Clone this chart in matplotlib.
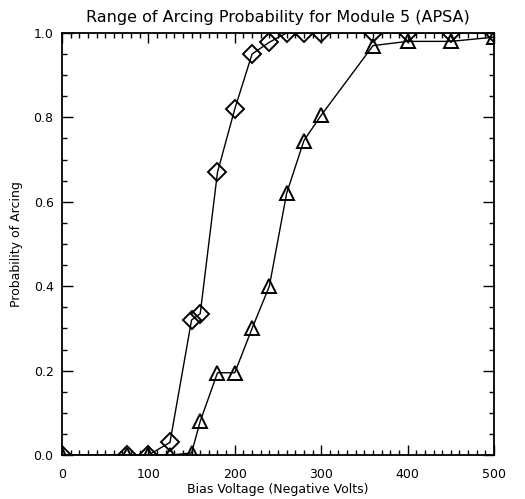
import matplotlib
matplotlib.use('Agg')
import matplotlib.pyplot as plt
from matplotlib.ticker import MultipleLocator

# bias voltage (negative volts)
volts = [0, 75, 100, 125, 150, 160, 180, 200, 220, 240, 260, 280, 300, 360, 400, 450, 500]

# probability of arcing, lower-threshold curve (diamonds)
prob_diamond = [0.0, 0.0, 0.0, 0.03, 0.32, 0.335, 0.67, 0.82, 0.95, 0.978, 1.0, 1.0, 1.0,
                1.0, 1.0, 1.0, 1.0]

# probability of arcing, upper-threshold curve (triangles)
prob_triangle = [0.0, 0.0, 0.0, 0.0, 0.005, 0.08, 0.195, 0.195, 0.30, 0.40, 0.62, 0.745, 0.805,
                 0.97, 0.98, 0.98, 0.99]

xticks = [0, 100, 200, 300, 400, 500]
yticks = [0.0, 0.2, 0.4, 0.6, 0.8, 1.0]

plt.rcParams['font.family'] = 'DejaVu Sans'

fig = plt.figure(figsize=(5.25, 4.99), dpi=100)
ax = fig.add_axes([0.118, 0.088, 0.823, 0.846])

ax.plot(volts, prob_diamond, color='black', lw=1.0, marker='D', ms=9,
        mfc='none', mec='black', mew=1.4)
ax.plot(volts, prob_triangle, color='black', lw=1.0, marker='^', ms=10.5,
        mfc='none', mec='black', mew=1.4)

ax.set_xlim(0, 500)
ax.set_ylim(0, 1.0)
ax.set_xticks(xticks)
ax.set_yticks(yticks)
ax.set_xticklabels([str(t) for t in xticks])
ax.set_yticklabels([f'{t:.1f}' for t in yticks])
ax.xaxis.set_minor_locator(MultipleLocator(10))
ax.yaxis.set_minor_locator(MultipleLocator(0.05))
ax.tick_params(which='both', direction='in', top=True, right=True, labelsize=9, width=1.0)
ax.tick_params(axis='x', which='major', length=7, pad=9)
ax.tick_params(axis='y', which='major', length=8, pad=6)
ax.tick_params(which='minor', length=3.5)
for s in ax.spines.values():
    s.set_linewidth(1.3)

ax.set_title('Range of Arcing Probability for Module 5 (APSA)', fontsize=11.5, pad=8)
ax.set_xlabel('Bias Voltage (Negative Volts)', fontsize=9, labelpad=2)
ax.set_ylabel('Probability of Arcing', fontsize=9, labelpad=8)

fig.savefig('out.png', dpi=100)
